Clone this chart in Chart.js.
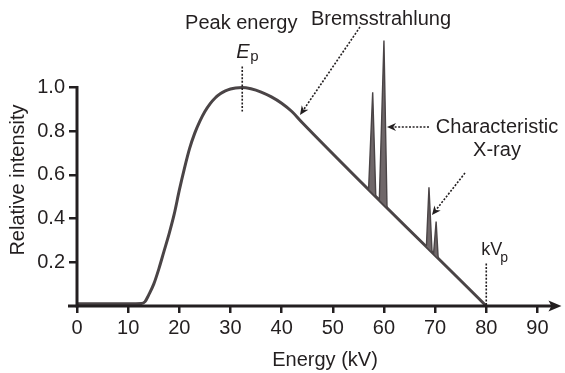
<!DOCTYPE html>
<html>
<head>
<meta charset="utf-8">
<script src="https://cdn.jsdelivr.net/npm/chart.js@4.4.1/dist/chart.umd.min.js"></script>
<style>
html,body{margin:0;padding:0;background:#fff;}
#wrap{width:565px;height:373px;position:relative;}
</style>
</head>
<body>
<div id="wrap"><canvas id="c" width="565" height="373"></canvas></div>
<script>
// ---- data ----
const energyKV   = [0, 5, 10, 12.6, 13.3, 14, 15, 16, 17, 18, 19, 20, 21, 22, 23, 24, 25, 26, 27, 28, 29, 30, 31, 32.3, 34, 36, 38, 40, 42, 44, 80];
const intensity  = [0.01, 0.01, 0.01, 0.011, 0.02, 0.05, 0.1, 0.17, 0.25, 0.33, 0.42, 0.53, 0.63, 0.72, 0.79, 0.845, 0.89, 0.925, 0.952, 0.971, 0.984, 0.993, 0.998, 1.0, 0.994, 0.979, 0.957, 0.928, 0.89, 0.84, 0];
const kLineE     = [57.0, 57.8, 58.4, 59.1, 60.0, 60.6];
const kLineI     = [0.536, 0.978, 0.505, 0.487, 1.215, 0.452];
const kBetaE     = [68.3, 68.8, 69.4, 69.7, 70.2, 70.6];
const kBetaI     = [0.273, 0.543, 0.247, 0.24, 0.386, 0.219];
const xTicks     = [0, 10, 20, 30, 40, 50, 60, 70, 80, 90];
const yTicks     = [0.2, 0.4, 0.6, 0.8, 1.0];
const peakEnergy = 32.3;
const kVp        = 80;

const FONT = '"Liberation Sans", Arial, Helvetica, sans-serif';
const INK = '#231f20';
const CURVE = '#4a4446';

const pts = (xs, ys) => xs.map((x, i) => ({x, y: ys[i]}));

function arrow(ctx, x1, y1, x2, y2) {
  ctx.save();
  ctx.strokeStyle = INK; ctx.fillStyle = INK; ctx.lineWidth = 1.6;
  ctx.setLineDash([2, 1.6]);
  const a = Math.atan2(y2 - y1, x2 - x1);
  const L = 9, W = 4;
  ctx.beginPath(); ctx.moveTo(x1, y1);
  ctx.lineTo(x2 - Math.cos(a) * L * 0.8, y2 - Math.sin(a) * L * 0.8); ctx.stroke();
  ctx.setLineDash([]);
  ctx.beginPath();
  ctx.moveTo(x2, y2);
  ctx.lineTo(x2 - Math.cos(a) * L + Math.sin(a) * W, y2 - Math.sin(a) * L - Math.cos(a) * W);
  ctx.lineTo(x2 - Math.cos(a) * L * 0.7, y2 - Math.sin(a) * L * 0.7);
  ctx.lineTo(x2 - Math.cos(a) * L - Math.sin(a) * W, y2 - Math.sin(a) * L + Math.cos(a) * W);
  ctx.closePath(); ctx.fill();
  ctx.restore();
}

const decor = {
  id: 'decor',
  afterDraw(chart) {
    const ctx = chart.ctx, xs = chart.scales.x, ys = chart.scales.y;
    const X = v => xs.getPixelForValue(v), Y = v => ys.getPixelForValue(v);
    ctx.save();
    ctx.strokeStyle = INK; ctx.fillStyle = INK;
    // axes
    ctx.lineWidth = 3; ctx.lineCap = 'butt';
    ctx.beginPath(); ctx.moveTo(X(0) - 9, Y(0)); ctx.lineTo(X(94.7) - 8, Y(0)); ctx.stroke();
    ctx.beginPath(); ctx.moveTo(X(0), Y(1.0) - 1.5); ctx.lineTo(X(0), Y(0) + 1.5); ctx.stroke();
    // arrow head of x axis
    const tx = X(94.7), ty = Y(0);
    ctx.beginPath(); ctx.moveTo(tx, ty); ctx.lineTo(tx - 13, ty - 5.5); ctx.lineTo(tx - 10, ty);
    ctx.lineTo(tx - 13, ty + 5.5); ctx.closePath(); ctx.fill();
    // dashed markers
    ctx.lineWidth = 1.6; ctx.setLineDash([2, 1.6]);
    ctx.beginPath(); ctx.moveTo(X(peakEnergy), Y(1.0) - 21); ctx.lineTo(X(peakEnergy), Y(1.0) + 24); ctx.stroke();
    ctx.beginPath(); ctx.moveTo(X(kVp), Y(0.195)); ctx.lineTo(X(kVp), Y(0)); ctx.stroke();
    ctx.setLineDash([]);
    // texts
    ctx.textBaseline = 'alphabetic';
    ctx.font = '20px ' + FONT; ctx.textAlign = 'center';
    ctx.fillText('Peak energy', X(peakEnergy) - 1, 29);
    ctx.textAlign = 'left';
    ctx.font = 'italic 20px ' + FONT; ctx.fillText('E', X(peakEnergy) - 6, 58);
    ctx.font = '15px ' + FONT; ctx.fillText('p', X(peakEnergy) + 8, 61);
    ctx.font = '20px ' + FONT; ctx.fillText('Bremsstrahlung', 311, 25);
    ctx.textAlign = 'center';
    ctx.fillText('Characteristic', 497, 133);
    ctx.fillText('X-ray', 497, 156);
    ctx.textAlign = 'left';
    ctx.font = '18px ' + FONT; ctx.fillText('kV', X(kVp) - 5, 255);
    ctx.font = '14px ' + FONT; ctx.fillText('p', X(kVp) + 14, 262);
    // axis titles
    ctx.font = '20px ' + FONT; ctx.textAlign = 'center';
    ctx.fillText('Energy (kV)', 325, 366);
    ctx.save(); ctx.translate(24, 180); ctx.rotate(-Math.PI / 2);
    ctx.fillText('Relative intensity', 0, 0); ctx.restore();
    ctx.restore();
    // annotation arrows
    arrow(ctx, 360, 27, 300, 115);
    arrow(ctx, 429, 127, 387, 127);
    arrow(ctx, 465, 173, 432, 215);
  }
};

new Chart(document.getElementById('c'), {
  type: 'scatter',
  data: {
    datasets: [
      { data: pts(energyKV, intensity), showLine: true, borderColor: CURVE, borderWidth: 3,
        pointRadius: 0, cubicInterpolationMode: 'monotone', fill: false, order: 1 },
      { data: pts(kLineE, kLineI), showLine: true, borderColor: CURVE, borderWidth: 1.4,
        backgroundColor: '#6f6769', pointRadius: 0, tension: 0, fill: 'shape', order: 0 },
      { data: pts(kBetaE, kBetaI), showLine: true, borderColor: CURVE, borderWidth: 1.4,
        backgroundColor: '#6f6769', pointRadius: 0, tension: 0, fill: 'shape', order: 0 }
    ]
  },
  options: {
    responsive: false, animation: false, devicePixelRatio: 1,
    layout: { padding: { left: 0, right: 2, top: 10, bottom: 0 } },
    plugins: { legend: { display: false }, tooltip: { enabled: false } },
    scales: {
      x: {
        type: 'linear', min: 0, max: 95,
        afterBuildTicks: s => { s.ticks = xTicks.map(v => ({ value: v })); },
        afterFit: s => { s.height = 67; },
        border: { display: false },
        grid: { drawOnChartArea: false, drawTicks: true, tickLength: 7, color: INK, lineWidth: 2.5 },
        ticks: { color: INK, font: { family: FONT, size: 20 }, padding: 3, maxRotation: 0, autoSkip: false }
      },
      y: {
        type: 'linear', min: 0, max: 1.327,
        afterBuildTicks: s => { s.ticks = yTicks.map(v => ({ value: v })); },
        afterFit: s => { s.width = 77; },
        border: { display: false },
        grid: { drawOnChartArea: false, drawTicks: true, tickLength: 8, color: INK, lineWidth: 2.5 },
        ticks: { color: INK, font: { family: FONT, size: 20 }, padding: 4, autoSkip: false,
                 callback: v => v.toFixed(1) }
      }
    }
  },
  plugins: [decor]
});
</script>
</body>
</html>
